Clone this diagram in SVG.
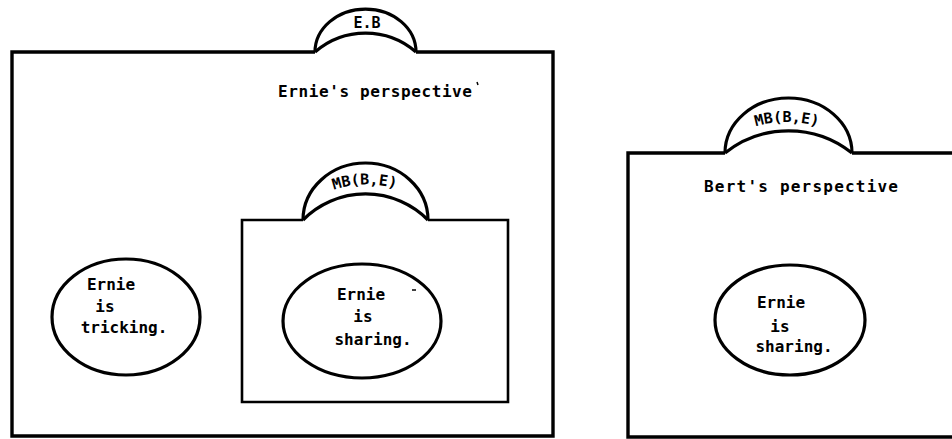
<svg xmlns="http://www.w3.org/2000/svg" width="952" height="439" viewBox="0 0 952 439">
  <style>
    .frame { fill: none; stroke: #000; stroke-width: 3.4; stroke-linejoin: miter; }
    .frame-thin { fill: none; stroke: #000; stroke-width: 2.6; }
    .tab { fill: none; stroke: #000; stroke-width: 3.2; }
    .bubble { fill: none; stroke: #000; stroke-width: 3.2; }
    .lbl { font-family: "DejaVu Sans Mono", "Liberation Mono", monospace; font-size: 16px; font-weight: bold; fill: #000; }
    .tablbl { font-family: "DejaVu Sans Mono", "Liberation Mono", monospace; font-size: 15px; font-weight: bold; fill: #000; }
    .mid { text-anchor: middle; }
    .speck { stroke: #000; stroke-width: 1.5; fill: none; }
  </style>
  <defs>
    <path id="arcInner" d="M 328,192 Q 364,178 402,190"/>
    <path id="arcBert" d="M 750,128 Q 786,116 824,128"/>
  </defs>
  <rect width="952" height="439" fill="#fff"/>

  <!-- Ernie's perspective: outer frame with E.B tab -->
  <g id="ernie-frame">
    <path class="frame" d="M 315,52 H 12 V 436 H 553 V 52 H 416"/>
    <path class="tab" d="M 315,52 A 50.5 43 0 0 1 416,52"/>
    <path class="tab" d="M 315,52 A 77 77 0 0 1 416,52"/>
    <text class="tablbl mid" x="367" y="28">E.B</text>
    <text class="lbl" x="278" y="97" textLength="194" lengthAdjust="spacing">Ernie's perspective</text>
    <path class="speck" d="M 477,82 L 478,85"/>
  </g>

  <!-- Mutual belief frame nested in Ernie's perspective -->
  <g id="mutual-belief-inner">
    <path class="frame-thin" d="M 303,220 H 242 V 402 H 508 V 220 H 428"/>
    <path class="tab" d="M 303,220 A 62.5 57 0 0 1 428,220"/>
    <path class="tab" d="M 303,220 A 88 88 0 0 1 428,220"/>
    <text class="tablbl"><textPath href="#arcInner" startOffset="50%" text-anchor="middle">MB(B,E)</textPath></text>
  </g>

  <!-- Belief bubble: Ernie is tricking -->
  <g id="tricking">
    <ellipse class="bubble" cx="126" cy="317" rx="74" ry="58"/>
    <text class="lbl mid" x="111" y="290">Ernie</text>
    <text class="lbl mid" x="105" y="312">is</text>
    <text class="lbl mid" x="124" y="333">tricking.</text>
  </g>

  <!-- Belief bubble: Ernie is sharing (inside mutual belief) -->
  <g id="sharing-mb">
    <ellipse class="bubble" cx="362" cy="321" rx="79" ry="57"/>
    <text class="lbl mid" x="361" y="300">Ernie</text>
    <text class="lbl mid" x="363" y="322">is</text>
    <text class="lbl mid" x="373" y="345">sharing.</text>
    <path class="speck" d="M 412,290 H 416"/>
  </g>

  <!-- Bert's perspective: frame with MB(B,E) tab -->
  <g id="bert-frame">
    <path class="frame" d="M 725,153 H 628 V 437 H 960 M 960,153 H 852"/>
    <path class="tab" d="M 725,153 A 63.5 55 0 0 1 852,153"/>
    <path class="tab" d="M 725,153 A 102 102 0 0 1 852,153"/>
    <text class="tablbl"><textPath href="#arcBert" startOffset="50%" text-anchor="middle">MB(B,E)</textPath></text>
    <text class="lbl" x="704" y="192" textLength="194" lengthAdjust="spacing">Bert's perspective</text>
  </g>

  <!-- Belief bubble: Ernie is sharing (Bert's view) -->
  <g id="sharing-bert">
    <ellipse class="bubble" cx="790" cy="320" rx="75" ry="55"/>
    <text class="lbl mid" x="781" y="308">Ernie</text>
    <text class="lbl mid" x="780" y="332">is</text>
    <text class="lbl mid" x="794" y="352">sharing.</text>
  </g>

  <!-- no connectors in this figure -->
  <g id="connectors"/>
</svg>
